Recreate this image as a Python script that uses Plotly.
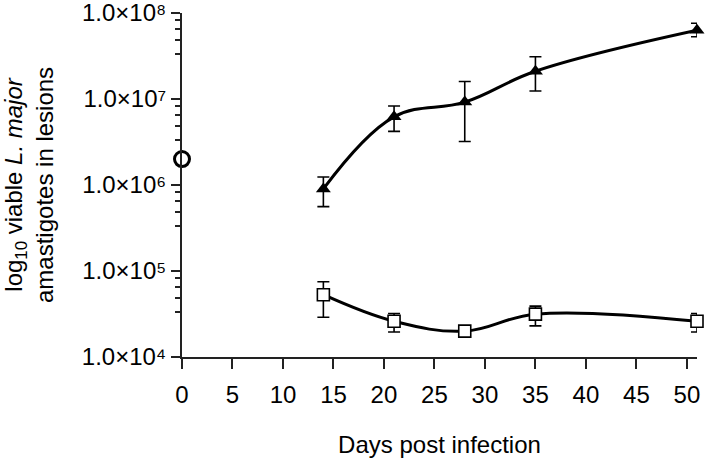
import plotly.graph_objects as go

# Data
days = [14, 21, 28, 35, 51]
treated_mean = [9.0e5, 6.2e6, 9.2e6, 2.1e7, 6.3e7]
treated_hi = [1.24e6, 8.3e6, 1.6e7, 3.1e7, 7.6e7]
treated_lo = [5.6e5, 4.2e6, 3.2e6, 1.24e7, 5.3e7]

control_mean = [5.3e4, 2.6e4, 2.0e4, 3.15e4, 2.6e4]
control_hi = [7.5e4, 3.2e4, 2.1e4, 3.9e4, 3.2e4]
control_lo = [2.9e4, 1.95e4, 1.9e4, 2.3e4, 1.95e4]

inoculum_day = [0]
inoculum_value = [2.0e6]

x_ticks = [0, 5, 10, 15, 20, 25, 30, 35, 40, 45, 50]
y_tick_vals = [1e4, 1e5, 1e6, 1e7, 1e8]
y_tick_text = ["1.0×10⁴", "1.0×10⁵", "1.0×10⁶", "1.0×10⁷", "1.0×10⁸"]
minor_mult = [3.3, 4.9, 6.6, 8.2]

FONT = "Arial, Liberation Sans, sans-serif"
FS = 24

def err(mean, hi, lo):
    return ([h - m for h, m in zip(hi, mean)], [m - l for m, l in zip(mean, lo)])

fig = go.Figure()

up, dn = err(treated_mean, treated_hi, treated_lo)
fig.add_trace(go.Scatter(
    x=days, y=treated_mean, mode="lines+markers",
    line=dict(color="black", width=3, shape="spline", smoothing=1.1),
    marker=dict(symbol="triangle-up", size=13, color="black"),
    error_y=dict(type="data", symmetric=False, array=up, arrayminus=dn,
                 color="black", thickness=1.6, width=6),
    cliponaxis=False, showlegend=False))

up, dn = err(control_mean, control_hi, control_lo)
fig.add_trace(go.Scatter(
    x=days, y=control_mean, mode="lines+markers",
    line=dict(color="black", width=3, shape="spline", smoothing=1.1),
    marker=dict(symbol="square", size=12, color="white",
                line=dict(color="black", width=1.6)),
    error_y=dict(type="data", symmetric=False, array=up, arrayminus=dn,
                 color="black", thickness=1.6, width=6),
    cliponaxis=False, showlegend=False))

fig.add_trace(go.Scatter(
    x=inoculum_day, y=inoculum_value, mode="markers",
    marker=dict(symbol="circle-open", size=15, color="black", line=dict(width=3)),
    cliponaxis=False, showlegend=False))

minor_vals = [m * d for d in [1e4, 1e5, 1e6, 1e7] for m in minor_mult]

fig.update_layout(
    width=712, height=458,
    margin=dict(l=182, r=15, t=13, b=101, autoexpand=False),
    plot_bgcolor="white", paper_bgcolor="white",
    font=dict(family=FONT, size=FS, color="black"),
    xaxis=dict(range=[0, 51], tickmode="array", tickvals=x_ticks,
               ticks="outside", ticklen=10, tickwidth=1.6, tickcolor="#222",
               ticklabelstandoff=5,
               showline=True, linecolor="#222", linewidth=2,
               showgrid=False, zeroline=False,
               tickfont=dict(size=FS, family=FONT),
               title=dict(text="Days post infection", font=dict(size=FS, family=FONT),
                          standoff=30)),
    yaxis=dict(type="log", range=[4 - 1e-4, 8 + 1e-4], tickmode="array",
               tickvals=y_tick_vals, ticktext=y_tick_text,
               ticks="outside", ticklen=9, tickwidth=1.6, tickcolor="#222",
               ticklabeloverflow="allow",
               showline=True, linecolor="#222", linewidth=2,
               showgrid=False, zeroline=False,
               tickfont=dict(size=FS, family=FONT),
               minor=dict(tickmode="array", tickvals=minor_vals, ticks="outside",
                          ticklen=5, tickwidth=1.6, tickcolor="#222", showgrid=False)),
    annotations=[dict(
        text="log<sub>10</sub> viable <i>L. major</i><br>amastigotes in lesions",
        textangle=-90, xref="paper", yref="paper",
        x=-153 / 515, y=0.5, xanchor="center", yanchor="middle",
        showarrow=False, font=dict(size=FS, family=FONT))],
)

fig.write_html("out.html", config={"displayModeBar": False},
               post_script="document.body.style.margin='0';")
